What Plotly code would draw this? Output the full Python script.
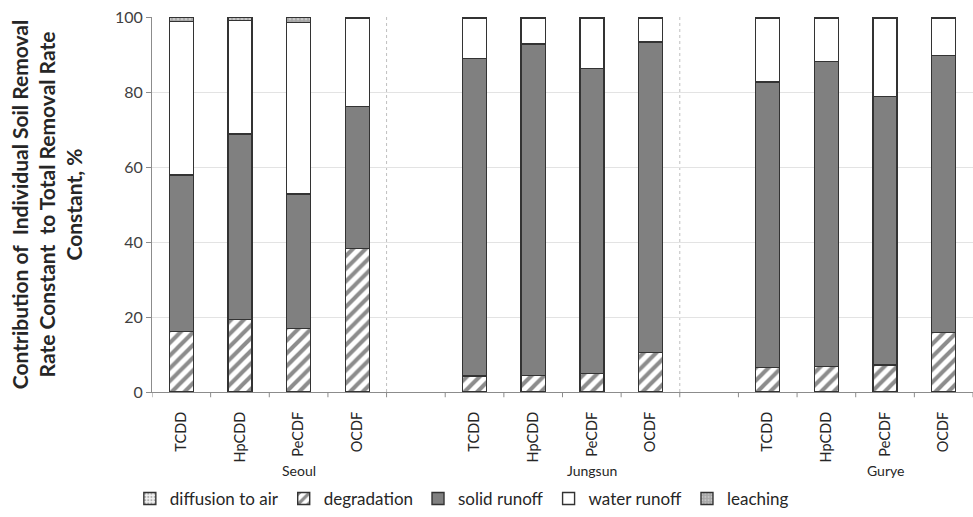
import plotly.graph_objects as go

# ---- data ----
sites = ["Seoul", "Jungsun", "Gurye"]
compounds = ["TCDD", "HpCDD", "PeCDF", "OCDF"]
# x slots: 4 bars per site with one empty slot between sites
x_slots = [0, 1, 2, 3, 5, 6, 7, 8, 10, 11, 12, 13]
tick_labels = compounds * 3
group_label_pos = [2, 7, 12]

diffusion = [0.1, 0.1, 0.1, 0.1, 0.05, 0.05, 0.05, 0.05, 0.05, 0.05, 0.05, 0.05]
degradation = [16.1, 19.3, 16.9, 38.1, 4.2, 4.4, 4.9, 10.5, 6.5, 6.8, 7.2, 15.8]
solid_top = [57.8, 68.7, 52.7, 76.1, 88.9, 92.8, 86.2, 93.3, 82.6, 88.1, 78.7, 89.7]
leaching = [1.2, 0.9, 1.5, 0.4, 0.3, 0.3, 0.3, 0.3, 0.3, 0.3, 0.3, 0.3]

solid_runoff = [round(s - d, 2) for s, d in zip(solid_top, degradation)]
water_runoff = [round(100 - s - l - f, 2) for s, l, f in zip(solid_top, leaching, diffusion)]

y_ticks = [0, 20, 40, 60, 80, 100]

FONT = "Lato"
outline = dict(color="#333333", width=1.4)
bw = 0.41

fig = go.Figure()
fig.add_bar(x=x_slots, y=diffusion, name="diffusion to air", width=bw,
            marker=dict(color="#f2f2f2", line=outline,
                        pattern=dict(shape=".", fgcolor="#6e6e6e", bgcolor="#f2f2f2", size=4, solidity=0.35)))
fig.add_bar(x=x_slots, y=degradation, name="degradation", width=bw,
            marker=dict(color="white", line=outline,
                        pattern=dict(shape="/", fgcolor="#1a1a1a", bgcolor="white", size=9, solidity=0.45)))
fig.add_bar(x=x_slots, y=solid_runoff, name="solid runoff", width=bw,
            marker=dict(color="#808080", line=outline))
fig.add_bar(x=x_slots, y=water_runoff, name="water runoff", width=bw,
            marker=dict(color="white", line=outline))
fig.add_bar(x=x_slots, y=leaching, name="leaching", width=bw,
            marker=dict(color="#a6a6a6", line=outline,
                        pattern=dict(shape=".", fgcolor="#e6e6e6", bgcolor="#a6a6a6", size=4, solidity=0.35)))

shapes = []
# boundary tick marks on x axis
for b in range(15):
    xb = b - 0.5
    shapes.append(dict(type="line", xref="x", yref="paper", x0=xb, x1=xb, y0=0, y1=-0.014,
                       line=dict(color="#8c8c8c", width=1)))
# dashed group separators
for xs in [3.5, 8.5]:
    shapes.append(dict(type="line", xref="x", yref="paper", x0=xs, x1=xs, y0=0, y1=1,
                       line=dict(color="#bfbfbf", width=1, dash="dot"), layer="below"))

annotations = []
for name, pos in zip(sites, group_label_pos):
    annotations.append(dict(text=name, x=pos, xref="x", y=-0.21, yref="paper",
                            showarrow=False, font=dict(family=FONT, size=14, color="#262626"),
                            yanchor="middle"))

fig.update_layout(
    width=973, height=517,
    margin=dict(l=152, r=0, t=17, b=124),
    paper_bgcolor="white", plot_bgcolor="white",
    barmode="stack",
    font=dict(family=FONT, color="#404040"),
    shapes=shapes,
    annotations=annotations,
    legend=dict(orientation="h", x=-0.027, xanchor="left", y=-0.287, yanchor="middle",
                font=dict(family=FONT, size=17, color="#262626"), traceorder="normal",
                itemwidth=30, bgcolor="rgba(0,0,0,0)"),
    xaxis=dict(range=[-0.5, 13.5], tickmode="array", tickvals=x_slots, ticktext=tick_labels,
               tickangle=-90, ticks="", showgrid=False, showline=True, linecolor="#8c8c8c",
               linewidth=1, tickfont=dict(family=FONT, size=14.5, color="#262626"),
               ticklabelstandoff=13, zeroline=False),
    yaxis=dict(range=[0, 100], tickmode="array", tickvals=y_ticks, showgrid=True,
               gridcolor="#e3e3e3", gridwidth=1, showline=True, linecolor="#8c8c8c",
               ticks="outside", ticklen=5, tickcolor="#8c8c8c", zeroline=False,
               tickfont=dict(family=FONT, size=16, color="#404040"),
               title=dict(text="Contribution of  Individual Soil Removal<br>Rate Constant  to Total Removal Rate<br>Constant, %",
                          font=dict(family=FONT, size=21, color="#262626", weight="bold"),
                          standoff=26)),
)

fig.write_html("out.html")
